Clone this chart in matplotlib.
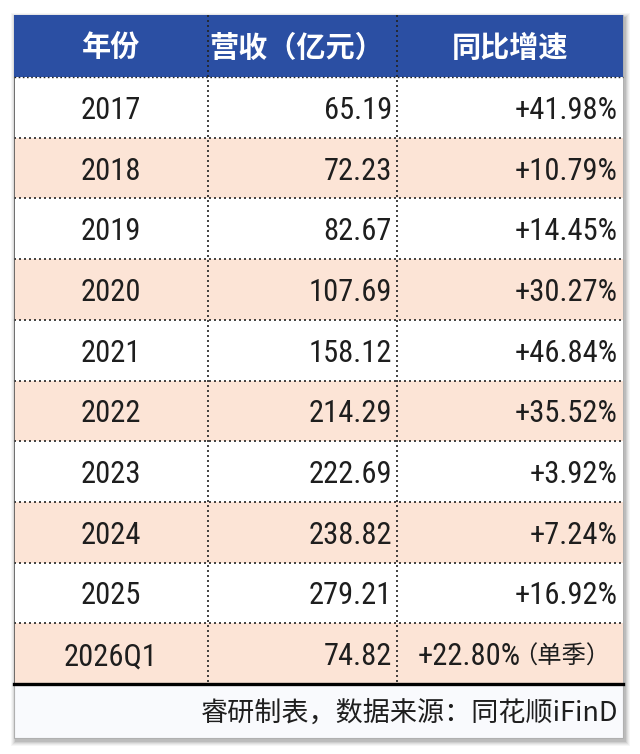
import matplotlib
matplotlib.use("Agg")
import matplotlib.pyplot as plt
from matplotlib.patches import Rectangle
from matplotlib import font_manager

headers = ["年份", "营收（亿元）", "同比增速"]
years = ["2017", "2018", "2019", "2020", "2021", "2022", "2023", "2024", "2025", "2026Q1"]
revenue = ["65.19", "72.23", "82.67", "107.69", "158.12", "214.29", "222.69", "238.82", "279.21", "74.82"]
growth = ["+41.98%", "+10.79%", "+14.45%", "+30.27%", "+46.84%", "+35.52%", "+3.92%", "+7.24%", "+16.92%", "+22.80%"]
growth_notes = ["", "", "", "", "", "", "", "", "", "（单季）"]
footer = "睿研制表，数据来源：同花顺iFinD"

names = {f.name for f in font_manager.fontManager.ttflist}
cands = [("Liberation Sans Narrow", 22), ("Roboto Condensed", 22), ("Open Sans Condensed", 22),
         ("DejaVu Sans Condensed", 19.5), ("Roboto", 19), ("DejaVu Sans", 17.5)]
narrow, num_fs = next((c, s) for c, s in cands if c in names)
num_font = [narrow, "Noto Sans CJK SC", "DejaVu Sans"]
cjk_font = ["Noto Sans CJK SC", "DejaVu Sans"]

W, H = 640, 754
fig = plt.figure(figsize=(W / 100, H / 100), dpi=100)
ax = fig.add_axes([0, 0, 1, 1])
ax.set_xlim(0, W)
ax.set_ylim(H, 0)
ax.axis("off")
fig.patch.set_facecolor("white")

L, R, T, B = 14, 623, 15, 738
hdr_b = 77
row_h = 60.7
col_x = [L, 208, 397, R]

# shadow
for i, a in enumerate([0.05, 0.07, 0.09, 0.12, 0.16]):
    off = 5 - i
    ax.add_patch(Rectangle((L - off + 2, T - off + 3), (R - L) + 2 * off, (B - T) + 2 * off,
                           facecolor="#606060", alpha=a, edgecolor="none", zorder=1))
ax.add_patch(Rectangle((L, T), R - L, B - T, facecolor="#f9fafd", edgecolor="#b0b0b0", lw=0.8, zorder=2))

# header
ax.add_patch(Rectangle((L, T), R - L, hdr_b - T, facecolor="#2b4fa3", edgecolor="none", zorder=3))
for j, h in enumerate(headers):
    cx = (col_x[j] + col_x[j + 1]) / 2
    if j == 1:
        cx -= 6
    ax.text(cx, (T + hdr_b) / 2 + 2, h, color="white", fontsize=21, fontweight="bold",
            family=cjk_font, ha="center", va="center", zorder=5)

# rows
n = len(years)
for i in range(n):
    y0 = hdr_b + i * row_h
    fc = "#fce4d6" if i % 2 == 1 else "white"
    ax.add_patch(Rectangle((L, y0), R - L, row_h, facecolor=fc, edgecolor="none", zorder=3))
    yc = y0 + row_h / 2 + 3
    ax.text((col_x[0] + col_x[1]) / 2, yc, years[i], fontsize=num_fs, family=num_font,
            color="#1e1e1e", ha="center", va="center", zorder=5)
    ax.text(col_x[2] - 5, yc, revenue[i], fontsize=num_fs, family=num_font,
            color="#1e1e1e", ha="right", va="center", zorder=5)
    if growth_notes[i]:
        ax.text(col_x[2] + 21, yc, growth[i], fontsize=num_fs, family=num_font,
                color="#1e1e1e", ha="left", va="center", zorder=5)
        ax.text(R - 13, yc, growth_notes[i], fontsize=17.5, family=cjk_font,
                color="#1e1e1e", ha="right", va="center", zorder=5)
    else:
        ax.text(R - 5, yc, growth[i], fontsize=num_fs, family=num_font,
                color="#1e1e1e", ha="right", va="center", zorder=5)
    if i > 0:
        ax.plot([L, R], [y0, y0], color="#222222", lw=1.2, ls=(0, (1.2, 1.8)), zorder=4)

tbl_b = hdr_b + n * row_h
ax.plot([L, L], [hdr_b, tbl_b], color="#555555", lw=0.6, zorder=4)
for x in col_x[1:3]:
    ax.plot([x, x], [T, tbl_b], color="#222222", lw=1.2, ls=(0, (1.2, 1.8)), zorder=4)
ax.plot([L, R], [hdr_b, hdr_b], color="#222222", lw=1.0, ls=(0, (1.2, 1.8)), zorder=4)
ax.plot([L, R], [tbl_b, tbl_b], color="black", lw=2.4, zorder=4)

ax.text(R - 5, (tbl_b + B) / 2 + 2, footer, fontsize=19.5, family=cjk_font,
        color="#1e1e1e", ha="right", va="center", zorder=5)

fig.savefig("out.png", dpi=100, facecolor="white")
